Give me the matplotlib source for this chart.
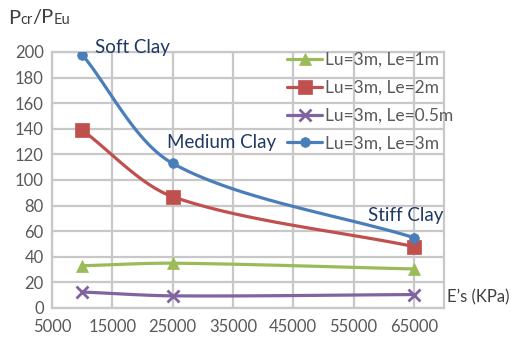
import numpy as np
import matplotlib
matplotlib.use("Agg")
import matplotlib.pyplot as plt
from matplotlib.offsetbox import TextArea, HPacker, AnnotationBbox

plt.rcParams['font.family'] = ['Lato', 'DejaVu Sans']

# soil modulus E's (KPa) and buckling ratio Pcr/PEu
es_kpa = [10000, 25000, 65000]
le_1m = [33, 35, 30.5]
le_2m = [139, 87, 48]
le_05m = [12.5, 9.5, 10.5]
le_3m = [198, 113, 55]

labels = ["Lu=3m, Le=1m", "Lu=3m, Le=2m", "Lu=3m, Le=0.5m", "Lu=3m, Le=3m"]
series = [le_1m, le_2m, le_05m, le_3m]
colors = ["#9BBB59", "#C0504D", "#8064A2", "#4A7EBB"]
markers = ["^", "s", "x", "o"]
msizes = [9, 10, 9, 7]

x_ticks = list(range(5000, 70000, 10000))
y_ticks = list(range(0, 220, 20))
XLIM = (5000, 70000)
YLIM = (0, 200)
ASPECT = 256 / 392  # plot box height / width


def smooth(xs, ys, n=40, k=0.3):
    """Bezier through the points, tangents scaled by segment length (axes space)."""
    px = (np.asarray(xs, float) - XLIM[0]) / (XLIM[1] - XLIM[0])
    py = (np.asarray(ys, float) - YLIM[0]) / (YLIM[1] - YLIM[0]) * ASPECT
    pts = np.column_stack([px, py])
    m = len(pts)
    dirs = []
    for i in range(m):
        d = pts[min(i + 1, m - 1)] - pts[max(i - 1, 0)]
        dirs.append(d / np.linalg.norm(d))
    out = [pts[:1]]
    knots = [0]
    t = np.linspace(0, 1, n)[1:, None]
    for i in range(m - 1):
        p1, p2 = pts[i], pts[i + 1]
        L = np.linalg.norm(p2 - p1)
        c1 = p1 + dirs[i] * L * k
        c2 = p2 - dirs[i + 1] * L * k
        seg = ((1 - t) ** 3 * p1 + 3 * (1 - t) ** 2 * t * c1
               + 3 * (1 - t) * t ** 2 * c2 + t ** 3 * p2)
        out.append(seg)
        knots.append(knots[-1] + len(seg))
    out = np.vstack(out)
    sx = out[:, 0] * (XLIM[1] - XLIM[0]) + XLIM[0]
    sy = out[:, 1] / ASPECT * (YLIM[1] - YLIM[0]) + YLIM[0]
    return sx, sy, knots


fig = plt.figure(figsize=(5.11, 3.44), dpi=100)
ax = fig.add_axes([52 / 511, 1 - 308 / 344, 392 / 511, 256 / 344])

for ys, lab, col, mk, ms in zip(series, labels, colors, markers, msizes):
    sx, sy, knots = smooth(es_kpa, ys)
    ax.plot(sx, sy, color=col, lw=2.3, marker=mk, markevery=knots, ms=ms,
            mew=2 if mk == "x" else 0.5, mec=col, mfc=col, label=lab,
            solid_capstyle="round", zorder=3)

ax.set_xlim(*XLIM)
ax.set_ylim(*YLIM)
ax.set_xticks(x_ticks)
ax.set_yticks(y_ticks)
ax.grid(True, color="#C8C8C8", lw=1.6)
ax.set_axisbelow(True)
for sp in ax.spines.values():
    sp.set_color("#C8C8C8")
    sp.set_linewidth(1.6)
ax.tick_params(length=0, labelsize=12, colors="#595959", pad=6)
ax.tick_params(axis="x", pad=8)

leg = ax.legend(loc="upper left", bbox_to_anchor=(0.6, 1.0), frameon=False,
                fontsize=12.5, handlelength=2.0, handletextpad=0.2,
                labelspacing=0.68, borderpad=0, borderaxespad=0)
for t in leg.get_texts():
    t.set_color("#595959")

# region labels on the Le=3m curve
ann_col = "#203864"
ax.text(95 / 511, 1 - 47 / 344, "Soft Clay", transform=fig.transFigure,
        fontsize=13.5, color=ann_col, va="center", ha="left")
ax.text(167 / 511, 1 - 142 / 344, "Medium Clay", transform=fig.transFigure,
        fontsize=13.5, color=ann_col, va="center", ha="left")
ax.text(443 / 511, 1 - 215 / 344, "Stiff Clay", transform=fig.transFigure,
        fontsize=13.5, color=ann_col, va="center", ha="right")

# axis titles
fig.text(447 / 511, 1 - 297 / 344, "E\u2019s (KPa)", fontsize=12,
         color="#404040", va="center", ha="left")

parts = [("P", 14.5), ("cr", 10.5), ("/P", 14.5), ("Eu", 10.5)]
boxes = [TextArea(s, textprops=dict(fontsize=fs, color="#404040")) for s, fs in parts]
pack = HPacker(children=boxes, align="baseline", pad=0, sep=0)
ab = AnnotationBbox(pack, (8 / 511, 1 - 18 / 344), xycoords="figure fraction",
                    box_alignment=(0, 0.5), frameon=False)
fig.add_artist(ab)

fig.savefig("out.png", dpi=100)
